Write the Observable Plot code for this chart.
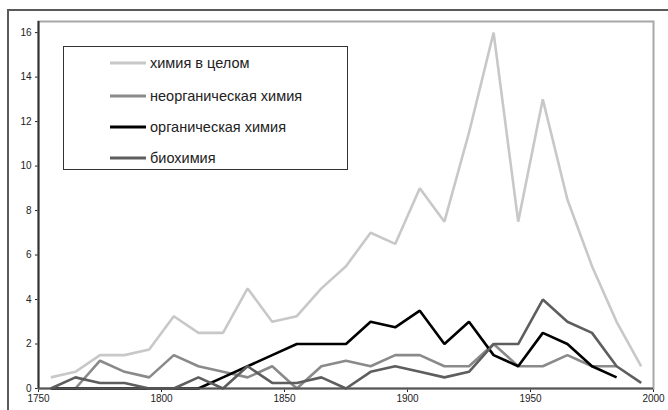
<!DOCTYPE html>
<html>
<head>
<meta charset="utf-8">
<script src="https://cdn.jsdelivr.net/npm/d3@7"></script>
<script src="https://cdn.jsdelivr.net/npm/@observablehq/plot@0.6"></script>
<style>
  body { margin: 0; background: #fff; font-family: "Liberation Sans", Arial, sans-serif; }
  #wrap { position: relative; width: 668px; height: 410px; overflow: hidden; }
  #outer { position: absolute; left: 7px; top: 9px; width: 700px; height: 500px;
           border-top: 2px solid #5a5a5a; border-left: 2px solid #5a5a5a; box-sizing: border-box; }
  #legend { position: absolute; left: 63px; top: 46px; width: 285px; height: 124px;
            border: 1.5px solid #333; box-sizing: border-box; background: #fff; }
  .row { position: absolute; left: 46px; height: 18px; display: flex; align-items: center;
         font-size: 14.5px; color: #222; }
  .row svg { margin-right: 4px; }
</style>
</head>
<body>
<div id="wrap">
  <div id="outer"></div>
  <div id="chart"></div>
  <div id="legend"></div>
</div>
<script>
const years = [1755,1765,1775,1785,1795,1805,1815,1825,1835,1845,1855,1865,1875,1885,1895,1905,1915,1925,1935,1945,1955,1965,1975,1985,1995];
const total     = [0.5,0.75,1.5,1.5,1.75,3.25,2.5,2.5,4.5,3,3.25,4.5,5.5,7,6.5,9,7.5,11.5,16,7.5,13,8.5,5.5,3,1];
const inorganic = [0,0,1.25,0.75,0.5,1.5,1,0.75,0.5,1,0,1,1.25,1,1.5,1.5,1,1,2,1,1,1.5,1,1,null];
const organic   = [0,0,0,0,0,0,0,0.5,1,1.5,2,2,2,3,2.75,3.5,2,3,1.5,1,2.5,2,1,0.5,null];
const biochem   = [0,0.5,0.25,0.25,0,0,0.5,0,1,0.25,0.25,0.5,0,0.75,1,0.75,0.5,0.75,2,2,4,3,2.5,1,0.25];
const seriesNames = ["химия в целом","неорганическая химия","органическая химия","биохимия"];
const seriesColors = ["#c8c8c8","#8a8a8a","#000000","#5e5e5e"];
const yTicks = [0,2,4,6,8,10,12,14,16];
const xTicks = [1750,1800,1850,1900,1950,2000];

const seriesValues = [total, inorganic, organic, biochem];
const rows = (vals) => years.map((y,i) => ({year: y, value: vals[i]})).filter(d => d.value != null);

const lines = seriesValues.map((vals, k) =>
  Plot.line(rows(vals), {x: "year", y: "value", stroke: seriesColors[k], strokeWidth: 2.6, strokeLinejoin: "miter", strokeLinecap: "butt"})
);

const chart = Plot.plot({
  width: 668, height: 410,
  marginLeft: 38, marginRight: 15, marginTop: 21, marginBottom: 22,
  style: {fontFamily: "'Liberation Sans', Arial, sans-serif", fontSize: "10px", color: "#222", background: "transparent"},
  x: {domain: [1750, 2000], ticks: xTicks, tickFormat: d => String(d), tickSize: 4, tickPadding: 2, label: null},
  y: {domain: [0, 16.5], ticks: yTicks, tickSize: 3, tickPadding: 4, label: null},
  marks: [
    Plot.frame({stroke: "#a8a8a8", strokeWidth: 2}),
    ...lines,
    Plot.ruleX([1750], {stroke: "#333", strokeWidth: 2}),
    Plot.ruleY([0], {stroke: "#555", strokeWidth: 2})
  ]
});
document.getElementById("chart").appendChild(chart);

const legend = document.getElementById("legend");
const rowTops = [7, 40, 71, 102];
seriesNames.forEach((name, k) => {
  const r = document.createElement("div");
  r.className = "row";
  r.style.top = rowTops[k] + "px";
  r.innerHTML = `<svg width="36" height="6"><line x1="0" y1="3" x2="36" y2="3" stroke="${seriesColors[k]}" stroke-width="2.8"/></svg><span>${name}</span>`;
  legend.appendChild(r);
});
</script>
</body>
</html>
